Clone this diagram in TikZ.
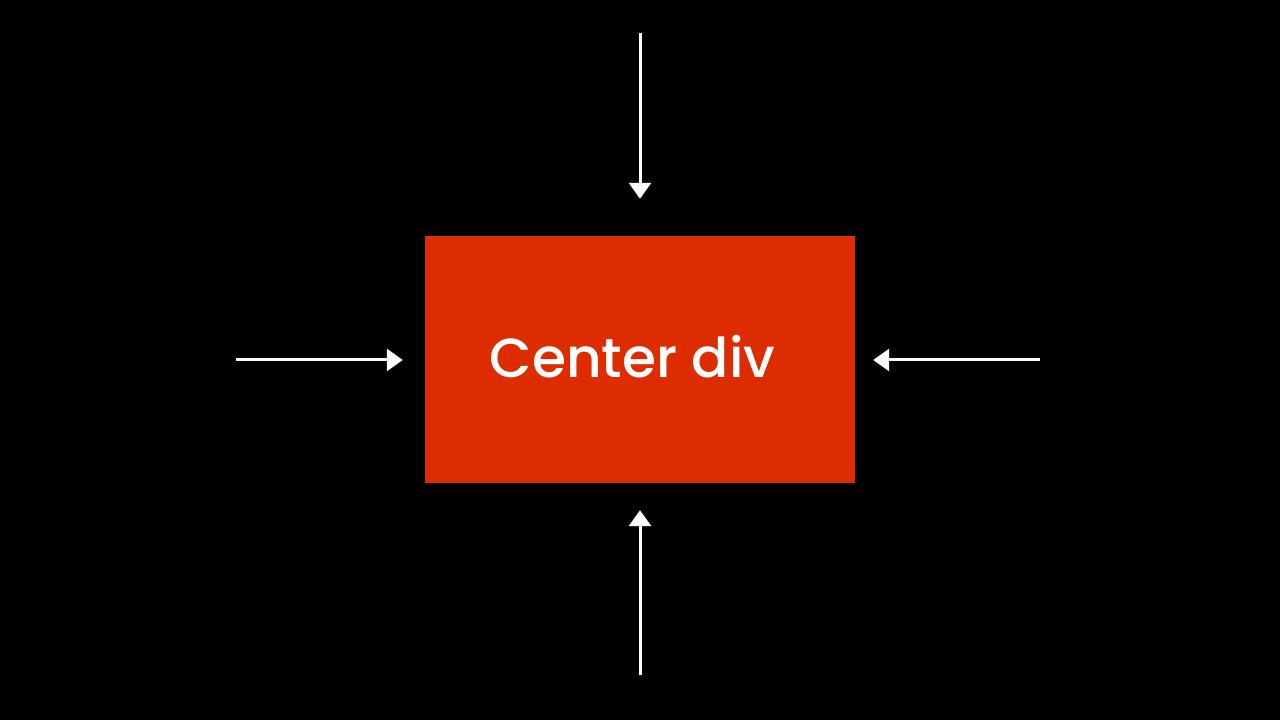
\documentclass[tikz,border=0pt]{standalone}
\usepackage{fontspec}
\newfontfamily\labelfont{Poppins Medium}
\usetikzlibrary{arrows.meta}
\definecolor{boxred}{HTML}{DD2C00}
\begin{document}
\begin{tikzpicture}[x=1pt, y=1pt,
    push/.style={white, line width=3pt, -{Triangle[width=22pt, length=16pt]}}]
            \fill[black] (0, 0) rectangle (1280, 720);
            \useasboundingbox (0, 0) rectangle (1280, 720);
            \node[fill=boxred, minimum width=430pt, minimum height=247pt, inner sep=0pt] (box) at (640, 360.5) {};
            \node[anchor=base, text=white, font=\labelfont\fontsize{55}{60}\selectfont] (label) at (632.5, 342) {Center div};

            \coordinate (top) at (640, 687);
            \coordinate (bottom) at (640, 45);
            \coordinate (left) at (236, 360);
            \coordinate (right) at (1040, 360);
            \draw[push, shorten >=37pt] (top) -- (box.north);
            \draw[push, shorten >=27pt] (bottom) -- (box.south);
            \draw[push, shorten >=22pt] (left) -- (box.west |- left);
            \draw[push, shorten >=18pt] (right) -- (box.east |- right);
        \end{tikzpicture}
\end{document}
